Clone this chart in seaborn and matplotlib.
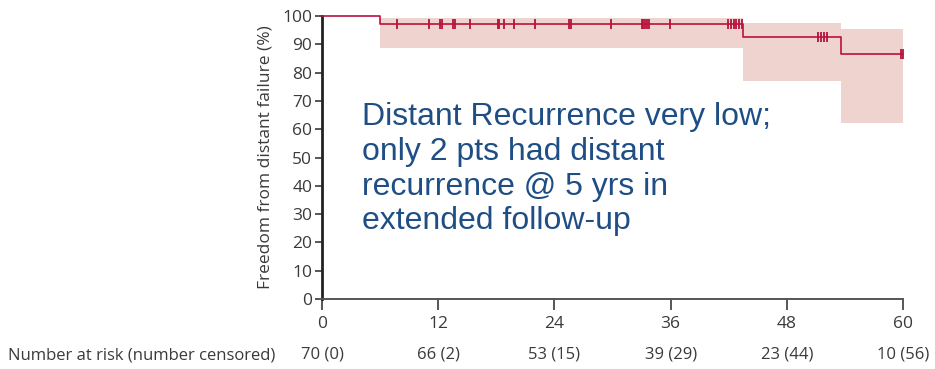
import matplotlib
matplotlib.use("Agg")
import matplotlib.pyplot as plt
import seaborn as sns
import pandas as pd
import numpy as np

# Kaplan-Meier estimate: step times (months) and survival (%) after each step
step_times = [0, 6.0, 43.5, 53.6, 60]
survival = [100, 97.1, 92.7, 86.5, 86.5]
# 95% confidence band for each interval
ci_times = [6.0, 43.5, 53.6, 60]
ci_upper = [99.3, 97.6, 95.3, 95.3]
ci_lower = [88.8, 77.0, 62.1, 62.1]

# censored observations (months)
censor_times = [7.7, 11.05, 12.2, 12.35, 13.55, 13.7, 15.3, 18.15, 18.3, 18.8,
                19.85, 21.95, 25.5, 25.7, 29.8, 33.0, 33.2, 33.4, 33.6, 33.8,
                35.9, 41.9, 42.2, 42.5, 42.8, 43.1, 43.4,
                51.2, 51.5, 51.8, 52.2, 59.8, 60.0]

xticks = [0, 12, 24, 36, 48, 60]
at_risk = ["70 (0)", "66 (2)", "53 (15)", "39 (29)", "23 (44)", "10 (56)"]

sns.set_theme(style="white")
plt.rcParams["font.family"] = ["Open Sans", "DejaVu Sans"]

line_color = "#B8123F"
band_color = "#EFD3CE"
text_grey = "#3a3a3a"

fig = plt.figure(figsize=(9.35, 3.69), dpi=100)
ax = fig.add_axes([322 / 935, 70 / 369, 581 / 935, 283 / 369])

# confidence band
ax.fill_between(ci_times, ci_lower, ci_upper, step="post", color=band_color,
                linewidth=0, zorder=1)

curve = pd.DataFrame({"month": step_times, "surv": survival})
sns.lineplot(data=curve, x="month", y="surv", drawstyle="steps-post",
             color=line_color, linewidth=1.2, ax=ax, zorder=3, clip_on=False)

# censor marks sit on the curve value at each time
surv_at = [survival[np.searchsorted(step_times, t, side="right") - 1] for t in censor_times]
cens = pd.DataFrame({"month": censor_times, "surv": surv_at})
sns.scatterplot(data=cens, x="month", y="surv", marker="|", s=60,
                color=line_color, linewidth=1.3, ax=ax, zorder=4, clip_on=False)

ax.set_xlim(0, 60)
ax.set_ylim(0, 100)
ax.set_xticks(xticks)
ax.set_yticks(range(0, 101, 10))
ax.set_xlabel("")
ax.set_ylabel("Freedom from distant failure (%)", fontsize=12.5, color=text_grey,
              labelpad=6)
ax.tick_params(axis="both", labelsize=12.5, colors=text_grey)
ax.tick_params(axis="y", length=5, width=1.2, pad=2, left=True)
ax.tick_params(axis="x", length=8, width=1.2, pad=4, bottom=True)
for side in ["top", "right"]:
    ax.spines[side].set_visible(False)
ax.spines["left"].set_color("#222222")
ax.spines["left"].set_linewidth(2.0)
ax.spines["bottom"].set_color("#555555")
ax.spines["bottom"].set_linewidth(1.4)

# numbers at risk below the axis
for t, lab in zip(xticks, at_risk):
    ax.text(t, -19.5, lab, ha="center", va="center", fontsize=12,
            color=text_grey, transform=ax.transData, clip_on=False)
fig.text(8 / 935, 1 - 355 / 369, "Number at risk (number censored)", ha="left",
         va="center", fontsize=12, color=text_grey)

# annotation
ax.text(4.1, 69.5, "Distant Recurrence very low;\nonly 2 pts had distant\n"
        "recurrence @ 5 yrs in\nextended follow-up",
        ha="left", va="top", fontsize=23, color="#1F4E85",
        family=["Liberation Sans", "DejaVu Sans"], linespacing=1.2)

fig.savefig("out.png", dpi=100)
